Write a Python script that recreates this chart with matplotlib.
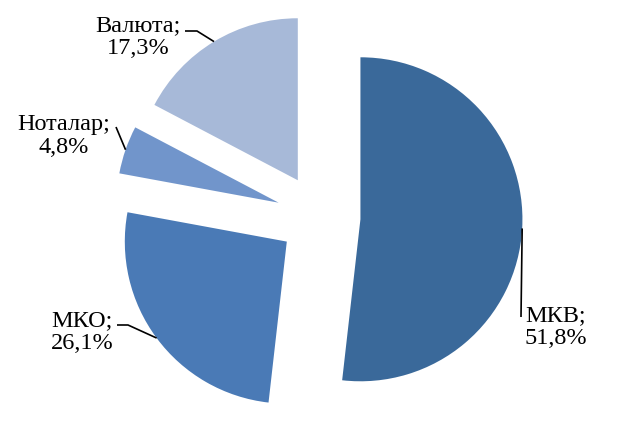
import numpy as np
import matplotlib
matplotlib.use("Agg")
import matplotlib.pyplot as plt

plt.rcParams['font.family'] = ['Liberation Serif', 'DejaVu Serif']

# Shares of the portfolio, percent
categories = ["МКВ", "МКО", "Ноталар", "Валюта"]
shares = [51.8, 26.1, 4.8, 17.3]
share_labels = ["51,8%", "26,1%", "4,8%", "17,3%"]
colors = ["#3A699A", "#4A7AB6", "#7195CB", "#A7B9D8"]
explode_frac = [0.25, 0.255, 0.27, 0.265]

W, H = 632, 423
fig = plt.figure(figsize=(W / 100, H / 100), dpi=100)
ax = fig.add_axes([0, 0, 1, 1])

R = 162
center = (320, H - 217)
wedges, _ = ax.pie(shares, radius=R, center=center, startangle=90,
                   counterclock=False, colors=colors,
                   explode=[f * R for f in explode_frac],
                   wedgeprops=dict(linewidth=0), frame=True)
ax.set_xlim(0, W)
ax.set_ylim(0, H)
ax.set_aspect("equal")
ax.axis("off")


def arc_mid(w):
    a = np.deg2rad((w.theta1 + w.theta2) / 2)
    cx, cy = w.center
    return cx + w.r * np.cos(a), cy + w.r * np.sin(a)


# label text centres and leader-line elbows (x, y from top)
label_pos = {
    "МКВ": (556, 327),
    "МКО": (82, 332),
    "Ноталар": (64, 136),
    "Валюта": (138, 37),
}
leaders = {
    "МКВ": [(521, 317)],
    "МКО": [(128, 325), (117, 325)],
    "Ноталар": [(116, 127)],
    "Валюта": [(197, 31), (185, 31)],
}

for w, cat, lab in zip(wedges, categories, share_labels):
    x0, y0 = arc_mid(w)
    pts = [(x0, y0)] + [(x, H - y) for x, y in leaders[cat]]
    xs, ys = zip(*pts)
    ax.plot(xs, ys, color="black", lw=1.2, solid_capstyle="butt")
    tx, ty = label_pos[cat]
    ax.text(tx, H - ty, f"{cat};\n{lab}", ha="center", va="center",
            multialignment="center", fontsize=17.5, linespacing=1.15,
            color="black")

fig.savefig("out.png", dpi=100, facecolor="white")
